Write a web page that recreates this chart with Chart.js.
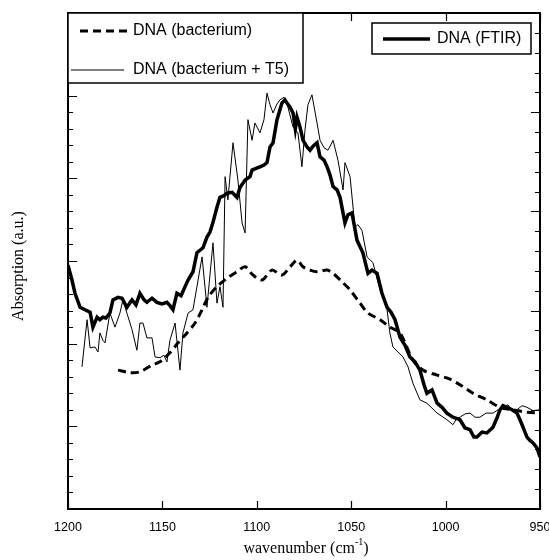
<!DOCTYPE html>
<html lang="en">
<head>
    <meta charset="UTF-8">
    <title>DNA absorption</title>
    <style>
        body {
            margin: 0;
            background: #ffffff;
        }
        #chart {
            display: block;
        }
    </style>
</head>
<body>
    <canvas id="chart" width="549" height="560"></canvas>

    <script src="https://cdn.jsdelivr.net/npm/chart.js@4.4.1/dist/chart.umd.min.js"></script>
    <script>
        // wavenumber (cm-1) and absorption (a.u.)
        const ftirWn = [1200, 1197.9, 1196.3, 1193.6, 1191.0, 1188.3, 1186.8, 1184.6, 1183.1, 1181.5, 1179.9, 1177.8, 1176.2, 1173.5, 1171.4, 1168.8, 1166.1, 1164.0, 1161.9, 1159.7, 1158.2, 1155.5, 1152.9, 1150.2, 1147.6, 1146.0, 1144.4, 1142.3, 1140.1, 1138.0, 1136.4, 1133.8, 1131.7, 1128.5, 1126.4, 1124.8, 1123.2, 1121.1, 1119.5, 1117.4, 1115.8, 1113.1, 1110.5, 1108.9, 1106.2, 1103.6, 1102.5, 1100.4, 1098.3, 1096.2, 1094.6, 1093.0, 1091.4, 1089.3, 1086.7, 1085.1, 1084.0, 1082.4, 1080.8, 1079.6, 1078.7, 1077.1, 1075.5, 1073.4, 1071.8, 1070.2, 1068.1, 1066.5, 1064.4, 1062.8, 1061.2, 1059.6, 1057.5, 1055.9, 1053.3, 1051.7, 1049.6, 1046.9, 1043.8, 1041.1, 1039.0, 1036.3, 1033.7, 1031.0, 1028.9, 1026.8, 1024.2, 1021.5, 1018.9, 1016.2, 1013.6, 1011.4, 1009.9, 1007.2, 1004.5, 1001.9, 999.3, 996.1, 992.4, 989.7, 987.1, 985.0, 983.4, 980.7, 978.1, 974.9, 972.8, 971.2, 969.6, 967.5, 964.8, 962.2, 960.6, 959.0, 956.9, 955.3, 953.7, 951.6, 950.0];
        const ftirAbs = [2.95, 2.77, 2.61, 2.44, 2.41, 2.38, 2.20, 2.32, 2.29, 2.32, 2.31, 2.37, 2.53, 2.56, 2.55, 2.44, 2.53, 2.47, 2.61, 2.53, 2.50, 2.55, 2.50, 2.48, 2.50, 2.46, 2.41, 2.61, 2.58, 2.69, 2.77, 2.87, 3.10, 3.16, 3.29, 3.35, 3.47, 3.65, 3.77, 3.79, 3.82, 3.83, 3.77, 3.89, 3.98, 4.02, 4.10, 4.12, 4.14, 4.16, 4.19, 4.38, 4.43, 4.71, 4.91, 4.95, 4.91, 4.86, 4.79, 4.60, 4.74, 4.62, 4.46, 4.38, 4.34, 4.39, 4.43, 4.26, 4.22, 4.14, 4.04, 3.90, 3.86, 3.77, 3.46, 3.56, 3.58, 3.25, 3.10, 2.85, 2.89, 2.85, 2.61, 2.44, 2.38, 2.29, 2.08, 1.98, 1.84, 1.78, 1.68, 1.50, 1.40, 1.44, 1.28, 1.23, 1.16, 1.11, 1.08, 0.98, 0.96, 0.87, 0.87, 0.93, 0.92, 0.99, 1.10, 1.20, 1.25, 1.23, 1.20, 1.16, 1.08, 0.99, 0.87, 0.83, 0.80, 0.74, 0.63];

        const t5Wn = [1192.6, 1189.9, 1188.3, 1185.7, 1184.1, 1183.1, 1181.5, 1180.4, 1177.8, 1175.1, 1172.5, 1170.9, 1168.8, 1166.1, 1163.5, 1161.9, 1160.3, 1158.2, 1155.5, 1153.9, 1151.3, 1149.2, 1147.6, 1146.0, 1143.3, 1140.7, 1139.1, 1136.4, 1133.8, 1131.1, 1129.0, 1126.4, 1123.2, 1121.1, 1119.5, 1117.9, 1116.8, 1115.3, 1112.6, 1110.0, 1107.8, 1106.2, 1104.7, 1102.5, 1101.0, 1098.3, 1096.2, 1094.6, 1093.0, 1091.4, 1089.3, 1087.7, 1085.6, 1083.5, 1080.8, 1078.2, 1076.1, 1074.5, 1072.9, 1070.8, 1068.1, 1066.5, 1064.4, 1062.3, 1059.6, 1057.0, 1054.3, 1053.3, 1050.6, 1048.0, 1046.4, 1044.3, 1041.6, 1038.5, 1034.7, 1031.0, 1029.5, 1027.9, 1025.2, 1022.6, 1019.9, 1017.3, 1013.6, 1009.9, 1007.2, 1004.5, 1001.9, 999.3, 996.1, 994.0, 992.4, 989.7, 987.1, 984.4, 981.8, 978.6, 974.9, 972.2, 969.6, 967.0, 964.8, 962.2, 959.5, 956.9, 953.7, 950.0];
        const t5Abs = [1.72, 2.29, 1.95, 1.96, 1.90, 2.13, 2.04, 2.01, 2.37, 2.20, 2.37, 2.53, 2.37, 2.17, 1.92, 2.25, 2.25, 2.07, 2.07, 1.84, 1.83, 1.86, 1.78, 2.04, 2.25, 1.68, 2.13, 2.37, 2.41, 2.77, 3.05, 2.44, 3.22, 2.49, 2.69, 2.44, 4.02, 3.74, 4.43, 3.98, 3.46, 3.34, 4.71, 4.46, 4.67, 4.55, 4.71, 5.03, 4.89, 4.79, 4.90, 4.95, 4.98, 4.86, 4.62, 4.55, 4.14, 4.58, 4.89, 5.01, 4.67, 4.46, 4.37, 4.34, 4.46, 4.22, 3.86, 4.19, 4.02, 3.41, 3.44, 3.37, 3.05, 2.98, 2.65, 2.41, 2.13, 1.96, 1.90, 1.84, 1.72, 1.52, 1.32, 1.28, 1.22, 1.16, 1.12, 1.08, 1.02, 1.10, 1.11, 1.15, 1.16, 1.11, 1.11, 1.16, 1.16, 1.20, 1.23, 1.26, 1.20, 1.20, 1.25, 1.23, 1.19, 1.20];

        const bactWn = [1173.5, 1167.2, 1161.9, 1155.5, 1151.3, 1146.0, 1141.7, 1137.0, 1132.7, 1129.0, 1125.8, 1121.1, 1115.8, 1110.5, 1106.2, 1102.0, 1097.2, 1092.0, 1086.7, 1082.4, 1078.7, 1075.5, 1071.8, 1068.1, 1062.8, 1059.6, 1054.9, 1050.6, 1045.3, 1041.1, 1034.7, 1029.5, 1024.2, 1017.3, 1012.0, 1004.5, 997.7, 990.8, 985.5, 978.1, 971.2, 964.3, 956.9, 950.0];
        const bactAbs = [1.68, 1.65, 1.66, 1.74, 1.78, 1.89, 2.01, 2.13, 2.25, 2.41, 2.56, 2.69, 2.79, 2.87, 2.93, 2.83, 2.77, 2.89, 2.83, 2.93, 3.01, 2.93, 2.89, 2.87, 2.89, 2.85, 2.75, 2.65, 2.49, 2.37, 2.29, 2.20, 2.13, 1.80, 1.68, 1.62, 1.57, 1.48, 1.40, 1.32, 1.23, 1.20, 1.17, 1.16];

        const xTicks = [1200, 1150, 1100, 1050, 1000, 950];

        const toPoints = (xs, ys) => xs.map((x, i) => ({ x: x, y: ys[i] }));

        const SANS = '"Liberation Sans", Arial, sans-serif';
        const SERIF = '"Liberation Serif", "Times New Roman", serif';

        // frame, inward ticks, labels and the two legend boxes
        const framePlugin = {
            id: 'frame',
            afterDraw(chart) {
                const ctx = chart.ctx;
                const a = chart.chartArea;
                const xs = chart.scales.x;
                const yl = chart.scales.y;
                const yr = chart.scales.y2;
                const ds = chart.data.datasets;

                ctx.save();
                ctx.strokeStyle = '#000';
                ctx.fillStyle = '#000';

                // ticks
                ctx.lineWidth = 1.2;
                ctx.beginPath();
                xTicks.forEach(v => {
                    const px = Math.round(xs.getPixelForValue(v)) + 0.5;
                    ctx.moveTo(px, a.bottom);
                    ctx.lineTo(px, a.bottom - 8);
                    ctx.moveTo(px, a.top);
                    ctx.lineTo(px, a.top + 8);
                });
                for (let i = 0; i <= 30; i++) {
                    const py = Math.round(yl.getPixelForValue(i / 5)) + 0.5;
                    ctx.moveTo(a.left, py);
                    ctx.lineTo(a.left + (i % 5 === 0 ? 9 : 5), py);
                }
                for (let i = 0; i <= 25; i++) {
                    const py = Math.round(yr.getPixelForValue(i / 5)) + 0.5;
                    ctx.moveTo(a.right, py);
                    ctx.lineTo(a.right - (i % 5 === 0 ? 9 : 5), py);
                }
                ctx.stroke();

                // frame
                ctx.lineWidth = 2;
                ctx.strokeRect(a.left, a.top, a.right - a.left, a.bottom - a.top);

                // x tick labels
                ctx.font = '12.5px ' + SANS;
                ctx.textAlign = 'center';
                ctx.textBaseline = 'middle';
                xTicks.forEach(v => {
                    ctx.fillText(String(v), xs.getPixelForValue(v), a.bottom + 19);
                });

                // x title with superscript
                ctx.textBaseline = 'alphabetic';
                ctx.textAlign = 'left';
                const t1 = 'wavenumber (cm';
                const t2 = '-1';
                const t3 = ')';
                ctx.font = '16px ' + SERIF;
                const w1 = ctx.measureText(t1).width;
                const w3 = ctx.measureText(t3).width;
                ctx.font = '10px ' + SERIF;
                const w2 = ctx.measureText(t2).width;
                const tx = (a.left + a.right) / 2 - (w1 + w2 + w3) / 2 + 2;
                const ty = a.bottom + 44;
                ctx.font = '16px ' + SERIF;
                ctx.fillText(t1, tx, ty);
                ctx.font = '10px ' + SERIF;
                ctx.fillText(t2, tx + w1, ty - 8);
                ctx.font = '16px ' + SERIF;
                ctx.fillText(t3, tx + w1 + w2, ty);

                // y title
                ctx.save();
                ctx.translate(19, (a.top + a.bottom) / 2 + 5);
                ctx.rotate(-Math.PI / 2);
                ctx.textAlign = 'center';
                ctx.textBaseline = 'middle';
                ctx.font = '16px ' + SERIF;
                ctx.fillText('Absorption (a.u.)', 0, 0);
                ctx.restore();

                // legend box 1
                ctx.fillStyle = '#fff';
                ctx.fillRect(a.left, a.top, 235, 70);
                ctx.lineWidth = 1.5;
                ctx.strokeRect(a.left, a.top, 235, 70);
                // legend box 2
                ctx.fillRect(372, a.top + 10, 159, 31);
                ctx.strokeRect(372, a.top + 10, 159, 31);

                const sample = (d, x1, x2, y) => {
                    ctx.save();
                    ctx.strokeStyle = d.borderColor;
                    ctx.lineWidth = d.borderWidth;
                    ctx.setLineDash(d.borderDash || []);
                    ctx.beginPath();
                    ctx.moveTo(x1, y);
                    ctx.lineTo(x2, y);
                    ctx.stroke();
                    ctx.restore();
                };

                ctx.fillStyle = '#000';
                ctx.font = '16px ' + SANS;
                ctx.textAlign = 'left';
                ctx.textBaseline = 'middle';
                sample(ds[2], 80, 129, 31);
                ctx.fillText(ds[2].label, 133, 31);
                sample(ds[1], 71, 124, 70);
                ctx.fillText(ds[1].label, 133, 70);
                sample(ds[0], 383, 430, 39);
                ctx.fillText(ds[0].label, 437, 39);

                ctx.restore();
            }
        };

        const ctx = document.getElementById('chart');

        new Chart(ctx, {
            type: 'line',
            data: {
                datasets: [{
                    label: 'DNA (FTIR)',
                    data: toPoints(ftirWn, ftirAbs),
                    borderColor: '#000',
                    borderWidth: 3.5,
                    pointRadius: 0,
                    tension: 0,
                    fill: false
                }, {
                    label: 'DNA (bacterium + T5)',
                    data: toPoints(t5Wn, t5Abs),
                    borderColor: '#000',
                    borderWidth: 1,
                    pointRadius: 0,
                    tension: 0,
                    fill: false
                }, {
                    label: 'DNA (bacterium)',
                    data: toPoints(bactWn, bactAbs),
                    borderColor: '#000',
                    borderWidth: 3,
                    borderDash: [8, 5],
                    pointRadius: 0,
                    tension: 0.3,
                    fill: false
                }]
            },
            options: {
                animation: false,
                responsive: false,
                layout: {
                    padding: { left: 68, right: 9, top: 13, bottom: 51 }
                },
                scales: {
                    x: { type: 'linear', reverse: true, min: 950, max: 1200, display: false },
                    y: { min: 0, max: 6, display: false },
                    y2: { min: 0, max: 5, display: false, position: 'right' }
                },
                plugins: {
                    legend: { display: false },
                    tooltip: { enabled: false }
                }
            },
            plugins: [framePlugin]
        });
    </script>
</body>
</html>
